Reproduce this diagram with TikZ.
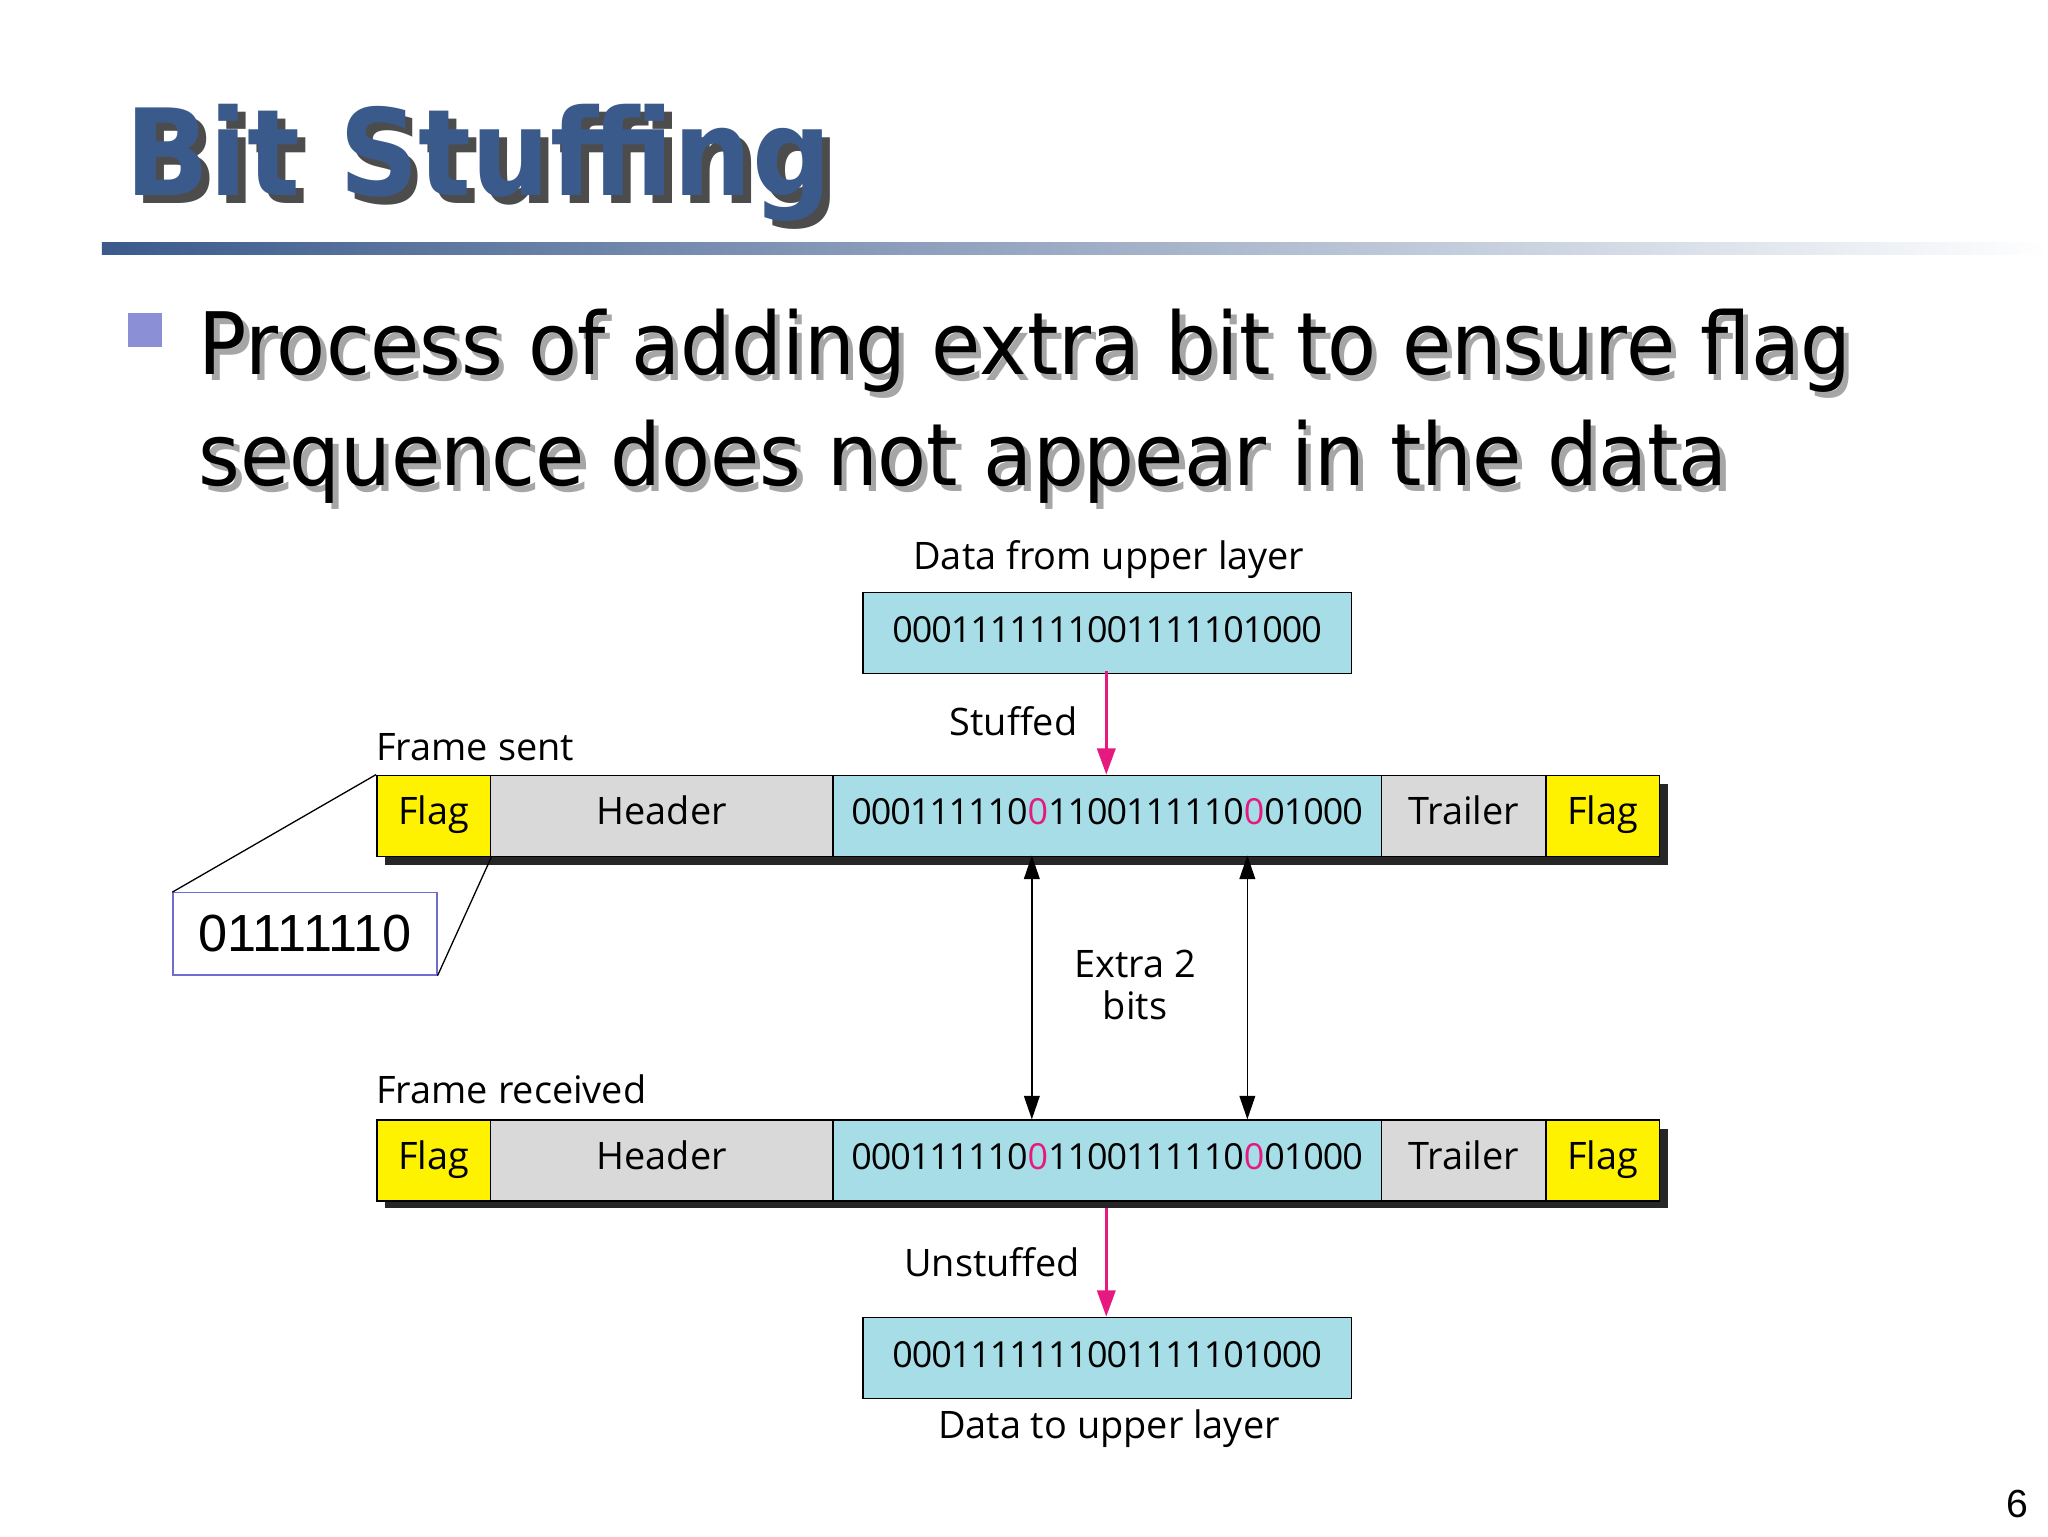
\documentclass[tikz,border=0pt]{standalone}
\usepackage{fontspec}
\setmainfont{DejaVu Sans}
\newfontfamily\dfont{Open Sans}
\newfontfamily\lfont{Liberation Sans}
\usetikzlibrary{arrows.meta,shadows}
\definecolor{titleblue}{HTML}{3B5A8C}
\definecolor{cyanbox}{HTML}{A6DDE6}
\definecolor{greybox}{HTML}{D9D9D9}
\definecolor{mag}{HTML}{E6197F}
\definecolor{bulletc}{HTML}{8A8FD6}
\definecolor{fbord}{HTML}{6E6ED2}
\tikzset{
 cell/.style={draw=black,line width=1.2pt,minimum height=62pt,inner sep=0pt,anchor=north west,text height=21pt,text depth=7pt,font=\dfont\fontsize{29}{32}\selectfont},
 bits/.style={font=\dfont\fontsize{27.5}{32}\selectfont\addfontfeatures{LetterSpace=-3}},
 lbl/.style={font=\dfont\fontsize{29}{32}\selectfont,inner sep=0pt},
 magarrow/.style={mag,line width=2pt,-{Triangle[length=20pt,width=14pt]}},
 blkarrow/.style={black,line width=1.3pt,{Triangle[length=18pt,width=12pt]}-{Triangle[length=18pt,width=12pt]}},
 shad/.style={fill=black!85}
}
\begin{document}
\begin{tikzpicture}[x=1pt,y=-1pt]
\useasboundingbox (0,0) rectangle (1568,1176);
\fill[white] (0,0) rectangle (1568,1176);
% title
\node[font=\bfseries\fontsize{92}{100}\selectfont,text=black!70,anchor=base west,inner sep=0pt,xscale=0.92] at (102,156) {Bit Stuffing};
\node[font=\bfseries\fontsize{92}{100}\selectfont,text=titleblue,anchor=base west,inner sep=0pt,xscale=0.92] (title) at (96,150) {Bit Stuffing};
\shade[left color=titleblue,right color=white] (78,186) rectangle (1568,195);
\fill[bulletc] (98,240) rectangle (124,266);
\node[font=\fontsize{66}{70}\selectfont,text=black!35,anchor=base west,inner sep=0pt,xscale=0.93] (s1) at (156,291) {Process of adding extra bit to ensure flag};
\node[font=\fontsize{66}{70}\selectfont,anchor=base west,inner sep=0pt,xscale=0.93] (l1) at (152,287) {Process of adding extra bit to ensure flag};
\node[font=\fontsize{66}{70}\selectfont,text=black!35,anchor=base west,inner sep=0pt,xscale=0.93] (s2) at (156,376) {sequence does not appear in the data};
\node[font=\fontsize{66}{70}\selectfont,anchor=base west,inner sep=0pt,xscale=0.93] (l2) at (152,372) {sequence does not appear in the data};
% top data
\node[lbl,anchor=base] (dful) at (849,436) {Data from upper layer};
\node[cell,bits,fill=cyanbox,minimum width=374pt] (top) at (660,453) {0001111111001111101000};
% frame sent
\node[lbl,anchor=base west] (fs) at (288,582) {Frame sent};
\fill[shad] (295,600) rectangle (1277,662);
\node[cell,fill=yellow,minimum width=87pt] (f1) at (288,593) {Flag};
\node[cell,fill=greybox,minimum width=262pt] (h1) at (375,593) {Header};
\node[cell,bits,fill=cyanbox,minimum width=420pt] (d1) at (637,593) {000111110\textcolor{mag}{0}1100111110\textcolor{mag}{0}01000};
\node[cell,fill=greybox,minimum width=126pt] (t1) at (1057,593) {Trailer};
\node[cell,fill=yellow,minimum width=87pt] (g1) at (1183,593) {Flag};
% frame received
\node[lbl,anchor=base west] (fr) at (288,845) {Frame received};
\fill[shad] (295,864) rectangle (1277,925);
\node[cell,fill=yellow,minimum width=87pt] (f2) at (288,857) {Flag};
\node[cell,fill=greybox,minimum width=262pt] (h2) at (375,857) {Header};
\node[cell,bits,fill=cyanbox,minimum width=420pt] (d2) at (637,857) {000111110\textcolor{mag}{0}1100111110\textcolor{mag}{0}01000};
\node[cell,fill=greybox,minimum width=126pt] (t2) at (1057,857) {Trailer};
\node[cell,fill=yellow,minimum width=87pt] (g2) at (1183,857) {Flag};
% bottom data
\node[cell,bits,fill=cyanbox,minimum width=374pt] (bot) at (660,1008) {0001111111001111101000};
\node[lbl,anchor=base] (dtul) at (849,1101) {Data to upper layer};
% arrows
\coordinate (a1) at (847,514);
\coordinate (a2) at (847,593);
\coordinate (a3) at (847,925);
\coordinate (a4) at (847,1008);
\draw[magarrow] (a1) -- (a2);
\node[lbl,anchor=base east] (st) at (825,563) {Stuffed};
\draw[magarrow] (a3) -- (a4);
\node[lbl,anchor=base east] (us) at (827,977) {Unstuffed};
\coordinate (b1) at (790,655); \coordinate (b2) at (790,857);
\coordinate (c1) at (955,655); \coordinate (c2) at (955,857);
\draw[blkarrow] (b1) -- (b2);
\draw[blkarrow] (c1) -- (c2);
\node[lbl,align=center] (ex) at (869,754) {Extra 2\\bits};
% flag detail
\node[draw=fbord,line width=1pt,minimum width=202pt,minimum height=63pt,anchor=north west,inner sep=0pt,font=\lfont\fontsize{40}{44}\selectfont] (fb) at (132,683) {01111110};
\draw[line width=1pt] (f1.north west) -- (fb.north west);
\draw[line width=1pt] (f1.south east) -- (fb.south east);
\node[font=\lfont\fontsize{30}{32}\selectfont,anchor=base east,inner sep=0pt] (pn) at (1553,1162) {6};
\end{tikzpicture}
\end{document}
